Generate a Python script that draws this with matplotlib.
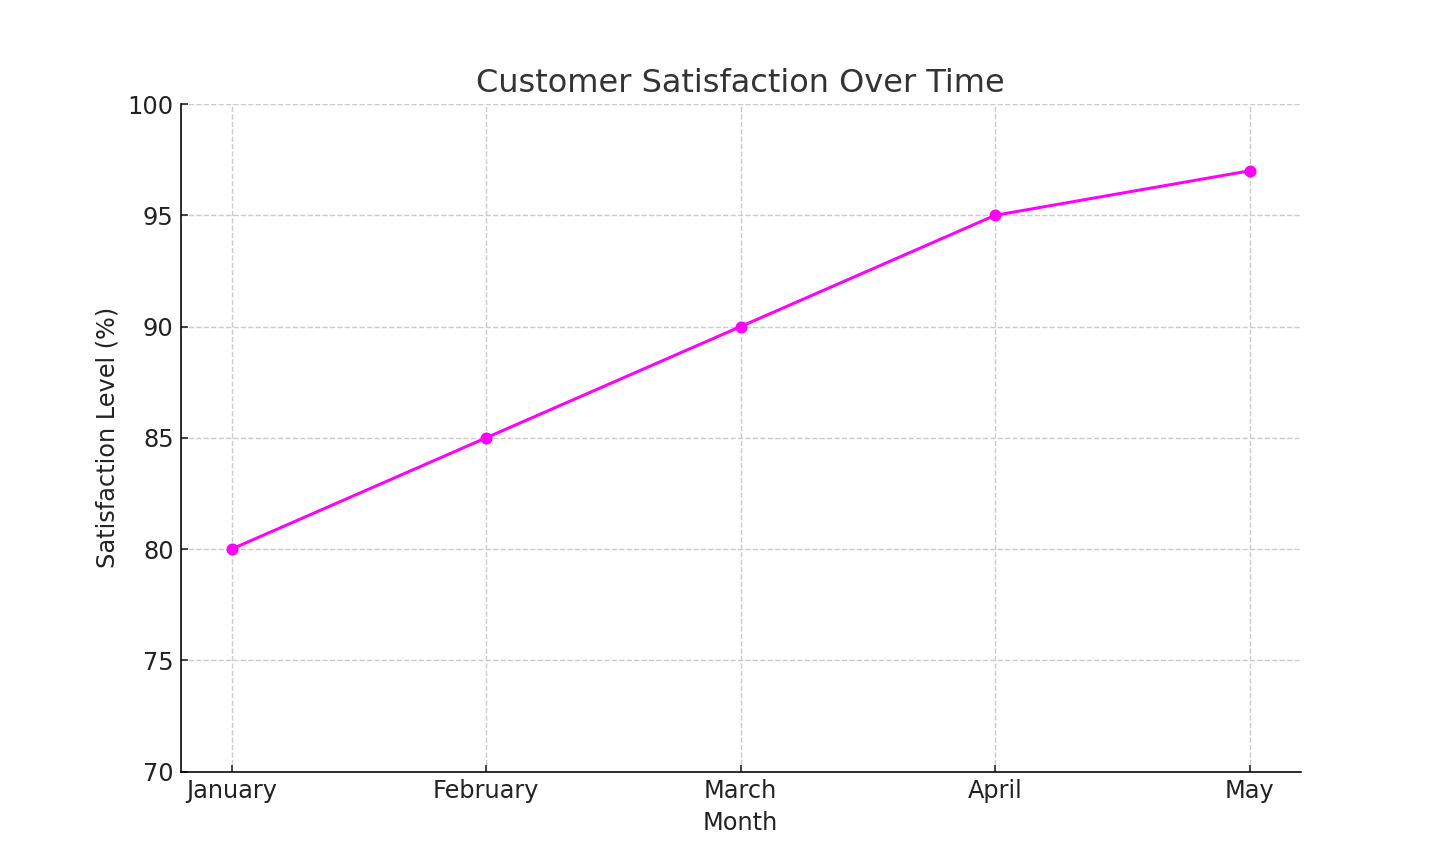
import matplotlib
matplotlib.use("Agg")
import matplotlib.pyplot as plt

months = ['January', 'February', 'March', 'April', 'May']
satisfaction = [80, 85, 90, 95, 97]

fig, ax = plt.subplots(figsize=(1445 / 144, 867 / 144), dpi=144)

ax.plot(months, satisfaction, marker='o', color='magenta', linewidth=1.5, markersize=5)

ax.set_title('Customer Satisfaction Over Time', fontsize=16, color='#333333')
ax.set_xlabel('Month', fontsize=12, color='#222222')
ax.set_ylabel('Satisfaction Level (%)', fontsize=12, color='#222222')
ax.set_ylim(70, 100)

ax.grid(True, linestyle='--', color='#cccccc', linewidth=0.7)
ax.spines['top'].set_visible(False)
ax.spines['right'].set_visible(False)
ax.tick_params(direction='in', labelsize=12, colors='#222222')

fig.savefig('out.png', dpi=144)
